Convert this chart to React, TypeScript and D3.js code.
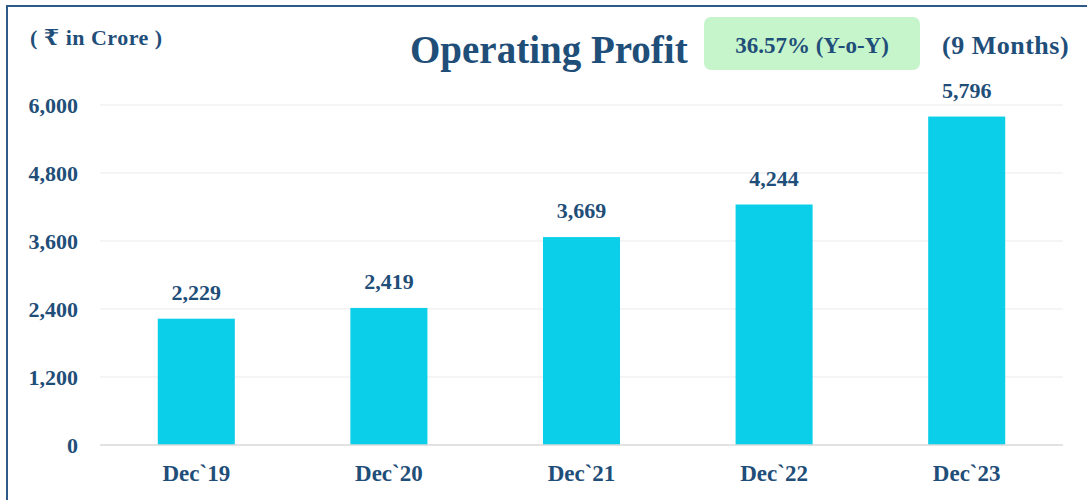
import React from "react";
import * as d3 from "d3";

const categories = ["Dec`19", "Dec`20", "Dec`21", "Dec`22", "Dec`23"];
const values = [2229, 2419, 3669, 4244, 5796];
const yTicks = [0, 1200, 2400, 3600, 4800, 6000];
const title = "Operating Profit";
const badgeText = "36.57% (Y-o-Y)";
const periodText = "(9 Months)";
const unitText = "( ₹ in Crore )";

const W = 1087;
const H = 500;
const FONT = "'Liberation Serif', 'DejaVu Serif', serif";
const TEXT = "#1f4e79";
const BAR = "#0bcfe8";

export default function App() {
  const x = d3
    .scaleBand<string>()
    .domain(categories)
    .range([100, 1063])
    .paddingInner(0.6)
    .paddingOuter(0.3);
  const y = d3.scaleLinear().domain([0, 6000]).range([445, 105]);
  const fmt = d3.format(",");

  return (
    <svg
      width={W}
      height={H}
      style={{ position: "absolute", left: 0, top: 0 }}
      fontFamily={FONT}
    >
      <rect x={0} y={0} width={W} height={H} fill="#fff" />
      <rect x={7} y={6} width={W + 20} height={H + 20} fill="none" stroke="#2e5a87" strokeWidth={2} />
      {yTicks.map((t) =>
        t === 0 ? null : (
          <line key={t} x1={100} x2={1063} y1={y(t)} y2={y(t)} stroke="#ececec" strokeWidth={1.2} />
        )
      )}
      {values.map((v, i) => (
        <rect
          key={categories[i]}
          x={x(categories[i])}
          y={y(v)}
          width={x.bandwidth()}
          height={y(0) - y(v)}
          fill={BAR}
        />
      ))}
      <line x1={100} x2={1063} y1={y(0)} y2={y(0)} stroke="#d9d9d9" strokeWidth={1.5} />
      {yTicks.map((t) => (
        <text key={t} x={78} y={y(t) + 7.5} textAnchor="end" fontSize={22} fontWeight="bold" fill={TEXT}>
          {fmt(t)}
        </text>
      ))}
      {categories.map((c) => (
        <text
          key={c}
          x={(x(c) as number) + x.bandwidth() / 2}
          y={481}
          textAnchor="middle"
          fontSize={23}
          fontWeight="bold"
          fill={TEXT}
        >
          {c}
        </text>
      ))}
      {values.map((v, i) => (
        <text
          key={"v" + i}
          x={(x(categories[i]) as number) + x.bandwidth() / 2}
          y={y(v) - 19}
          textAnchor="middle"
          fontSize={22}
          fontWeight="bold"
          fill={TEXT}
        >
          {fmt(v)}
        </text>
      ))}
      <text x={30} y={45} fontSize={22} letterSpacing={0.5} fontWeight="bold" fill={TEXT}>
        {unitText}
      </text>
      <text x={410} y={63} fontSize={39} fontWeight="bold" fill={TEXT}>
        {title}
      </text>
      <rect x={704} y={17} width={216} height={53} rx={7} fill="#c6f5cc" />
      <text x={812} y={53} textAnchor="middle" fontSize={23} fontWeight="bold" fill={TEXT}>
        {badgeText}
      </text>
      <text x={942} y={54} fontSize={26} letterSpacing={0.5} fontWeight="bold" fill={TEXT}>
        {periodText}
      </text>
    </svg>
  );
}
